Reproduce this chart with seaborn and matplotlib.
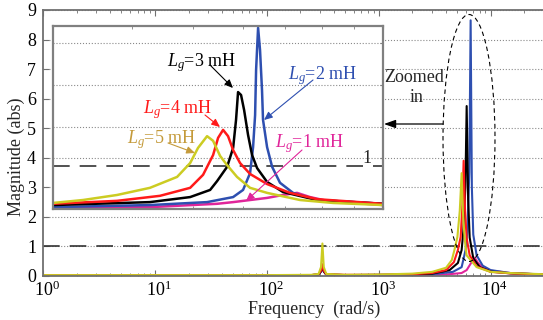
import numpy as np
import pandas as pd
import matplotlib
matplotlib.use('Agg')
import matplotlib.pyplot as plt
import matplotlib.transforms as mtrans
import seaborn as sns
from matplotlib.patches import Ellipse
from matplotlib.ticker import NullFormatter, LogLocator

sns.set_style('white')
plt.rcParams['font.family'] = ['Liberation Serif', 'DejaVu Serif']
plt.rcParams['mathtext.fontset'] = 'custom'
plt.rcParams['mathtext.rm'] = 'Liberation Serif'
plt.rcParams['mathtext.it'] = 'Liberation Serif:italic'
plt.rcParams['mathtext.bf'] = 'Liberation Serif:bold'

# ---------------- data ----------------
lg_labels = ['1 mH', '2 mH', '3 mH', '4 mH', '5 mH']
line_colors = ['#e0259a', '#2e4fb0', '#000000', '#ff1a1a', '#cccc22']
text_colors = ['#e0259a', '#2e4fb0', '#000000', '#ff1a1a', '#c49a3a']

# main plot (frequency in rad/s, magnitude in abs)
main_freq_1 = [1, 100, 250, 290, 305, 314, 323, 340, 500, 1000, 2000, 4000, 5500, 6110, 6690, 7200, 7700, 8500, 10000, 15000, 30000]
main_mag_1 = [0.03, 0.03, 0.03, 0.05, 0.15, 0.30, 0.15, 0.05, 0.03, 0.03, 0.03, 0.05, 0.10, 0.20, 0.44, 0.62, 0.45, 0.28, 0.18, 0.10, 0.05]

main_freq_2 = [1, 100, 250, 290, 305, 314, 323, 340, 500, 1000, 2000, 3000, 4600, 5510, 5970, 6200, 6450, 6630, 6800, 7000, 7500, 8500, 10000, 15000, 30000]
main_mag_2 = [0.03, 0.03, 0.03, 0.05, 0.15, 0.30, 0.15, 0.05, 0.03, 0.03, 0.04, 0.06, 0.14, 0.30, 0.88, 1.50, 3.50, 8.65, 3.00, 1.40, 0.70, 0.35, 0.20, 0.10, 0.05]

main_freq_3 = [1, 100, 250, 290, 305, 314, 323, 340, 500, 1000, 2000, 3000, 4300, 5100, 5510, 5700, 5950, 6110, 6300, 6500, 7000, 8000, 10000, 15000, 30000]
main_mag_3 = [0.03, 0.03, 0.03, 0.05, 0.16, 0.35, 0.16, 0.05, 0.03, 0.04, 0.05, 0.08, 0.20, 0.44, 0.88, 1.50, 3.00, 5.75, 2.60, 1.30, 0.60, 0.30, 0.15, 0.09, 0.05]

main_freq_4 = [1, 100, 250, 290, 305, 314, 323, 340, 500, 1000, 2000, 3000, 4000, 4700, 5100, 5400, 5600, 5740, 5900, 6100, 6500, 7500, 10000, 15000, 30000]
main_mag_4 = [0.03, 0.03, 0.03, 0.06, 0.18, 0.40, 0.18, 0.06, 0.04, 0.04, 0.06, 0.10, 0.20, 0.47, 0.88, 1.32, 2.40, 3.90, 2.30, 1.30, 0.70, 0.32, 0.14, 0.09, 0.05]

main_freq_5 = [1, 100, 250, 290, 305, 314, 323, 340, 500, 1000, 2000, 3000, 4000, 4500, 4750, 5050, 5300, 5510, 5650, 5850, 6100, 7500, 10000, 15000, 30000]
main_mag_5 = [0.03, 0.03, 0.04, 0.07, 0.30, 1.10, 0.30, 0.07, 0.04, 0.05, 0.08, 0.14, 0.28, 0.54, 0.88, 1.32, 2.20, 3.48, 2.20, 1.30, 0.70, 0.30, 0.14, 0.10, 0.06]

# zoomed-in view (inset)
zoom_freq_1 = [3000, 4273, 5459, 5788, 6551, 6943, 7309, 7662, 8155, 10000]
zoom_mag_1 = [0.01, 0.02, 0.10, 0.14, 0.24, 0.31, 0.36, 0.26, 0.17, 0.07]

zoom_freq_2 = [3000, 4273, 5263, 5788, 6002, 6157, 6225, 6271, 6294, 6340, 6385, 6431, 6455, 6551, 6673, 6868, 7202, 7860, 10000]
zoom_mag_2 = [0.02, 0.07, 0.14, 0.26, 0.43, 0.83, 1.45, 2.21, 3.29, 4.29, 3.76, 2.81, 2.10, 1.45, 0.98, 0.60, 0.36, 0.19, 0.10]

zoom_freq_3 = [3000, 4273, 4948, 5322, 5459, 5662, 5788, 5850, 5893, 5958, 6025, 6112, 6202, 6317, 6551, 6943, 7860, 10000]
zoom_mag_3 = [0.07, 0.14, 0.26, 0.43, 0.64, 0.98, 1.43, 2.10, 2.76, 2.69, 2.33, 1.74, 1.26, 0.95, 0.62, 0.38, 0.19, 0.10]

zoom_freq_4 = [3000, 3790, 4433, 4948, 5187, 5380, 5479, 5580, 5682, 5788, 5936, 6157, 6551, 7122, 7860, 10000]
zoom_mag_4 = [0.10, 0.17, 0.29, 0.48, 0.79, 1.26, 1.67, 1.86, 1.71, 1.38, 1.07, 0.81, 0.57, 0.36, 0.21, 0.10]

zoom_freq_5 = [3000, 3347, 3790, 4273, 4718, 4948, 5092, 5263, 5380, 5519, 5662, 5871, 6157, 6551, 7388, 8335, 10000]
zoom_mag_5 = [0.12, 0.19, 0.31, 0.48, 0.74, 1.07, 1.43, 1.71, 1.60, 1.24, 1.02, 0.74, 0.48, 0.36, 0.19, 0.12, 0.07]

main_freqs = [main_freq_1, main_freq_2, main_freq_3, main_freq_4, main_freq_5]
main_mags = [main_mag_1, main_mag_2, main_mag_3, main_mag_4, main_mag_5]
zoom_freqs = [zoom_freq_1, zoom_freq_2, zoom_freq_3, zoom_freq_4, zoom_freq_5]
zoom_mags = [zoom_mag_1, zoom_mag_2, zoom_mag_3, zoom_mag_4, zoom_mag_5]


def long_df(freqs, mags):
    rows = []
    for lab, f, m in zip(lg_labels, freqs, mags):
        for fi, mi in zip(f, m):
            rows.append((lab, fi, mi))
    return pd.DataFrame(rows, columns=['Lg', 'freq', 'mag'])


df_main = long_df(main_freqs, main_mags)
df_zoom = long_df(zoom_freqs, zoom_mags)
palette = dict(zip(lg_labels, line_colors))

W, H = 543, 320
fig = plt.figure(figsize=(W / 100, H / 100), dpi=100)


def fx(x):
    return x / W


def fy(y):
    return 1 - y / H


# ---------------- main axes ----------------
ax = fig.add_axes([fx(43), fy(276), 501 / W, 266 / H])
ax.set_xscale('log')
sns.lineplot(data=df_main, x='freq', y='mag', hue='Lg', palette=palette,
             estimator=None, legend=False, ax=ax, linewidth=1.5)
ax.set_xlim(1, 3e4)
ax.set_ylim(0, 9)
ax.set_yticks(range(10))
ax.set_xticks([1, 10, 100, 1000, 10000])
ax.xaxis.set_minor_locator(LogLocator(base=10, subs=np.arange(2, 10), numticks=20))
ax.yaxis.grid(True, linestyle=':', color='#8a8a8a', linewidth=0.8)
ax.xaxis.grid(False)
ax.axhline(1, color='#333333', linestyle=(0, (10, 6)), linewidth=1.2, zorder=1)
for s in ['left', 'top', 'bottom']:
    ax.spines[s].set_color('#707070')
    ax.spines[s].set_linewidth(1.3)
ax.spines['right'].set_visible(False)
ax.tick_params(which='both', direction='in', top=True, bottom=True, left=True, right=False,
               color='#707070', labelcolor='black', labelsize=13)
ax.tick_params(which='major', length=4)
ax.tick_params(which='minor', length=2.5)
ax.tick_params(axis='x', pad=3)
ax.tick_params(axis='y', pad=5)
ax.set_xlabel('')
ax.set_ylabel('')
# the "10" of each power label sits on its tick, superscript hanging to the right
shift = mtrans.ScaledTranslation(4 / 100, 0, fig.dpi_scale_trans)
for lab in ax.get_xticklabels():
    lab.set_transform(lab.get_transform() + shift)
fig.text(fx(314), fy(309), 'Frequency  (rad/s)', ha='center', va='center', fontsize=13)
fig.text(fx(16), fy(157), 'Magnitude (abs)', ha='center', va='center', rotation=90, fontsize=13)

# ---------------- inset ----------------
axi = fig.add_axes([fx(53), fy(209), 330 / W, 183 / H])
axi.set_xscale('log')
sns.lineplot(data=df_zoom, x='freq', y='mag', hue='Lg', palette=palette,
             estimator=None, legend=False, ax=axi, linewidth=1.8)
axi.set_xlim(3000, 10000)
axi.set_ylim(-0.024, 4.333)
axi.set_yticks([1.19, 1.93, 2.93, 3.93])
axi.yaxis.grid(True, linestyle=':', color='#8a8a8a', linewidth=0.8)
axi.xaxis.grid(False)
axi.xaxis.set_major_formatter(NullFormatter())
axi.xaxis.set_minor_formatter(NullFormatter())
axi.yaxis.set_major_formatter(NullFormatter())
axi.tick_params(which='both', direction='in', top=True, bottom=True, left=False, right=True,
                color='#808080', length=2.5)
axi.set_xlabel('')
axi.set_ylabel('')
for s in axi.spines.values():
    s.set_color('#808080')
    s.set_linewidth(1.6)
axi.axhline(1, color='#333333', linestyle=(0, (10, 6)), linewidth=1.2, zorder=1)
fig.text(fx(367), fy(163), '1', ha='center', va='baseline', fontsize=13)

# annotations
ann = [
    # (label idx, text left x, baseline y, arrow from, arrow to)
    (2, 167, 66, (210, 65), (233, 88)),
    (3, 143, 113, (205, 115), (220, 127)),
    (4, 127, 143, (168, 143), (195, 153)),
    (1, 288, 79, (313, 80), (264, 120)),
    (0, 275, 147, (302, 150), (246, 201)),
]
for idx, tx, ty, a0, a1 in ann:
    fig.text(fx(tx), fy(ty), r'$L_g$=' + lg_labels[idx], color=text_colors[idx],
             ha='left', va='baseline', fontsize=13)
    fig.add_artist(matplotlib.patches.FancyArrowPatch(
        (fx(a0[0]), fy(a0[1])), (fx(a1[0]), fy(a1[1])), transform=fig.transFigure,
        arrowstyle='-|>,head_length=5,head_width=2.2', color=text_colors[idx], lw=0.8,
        shrinkA=0, shrinkB=0))

# zoom marker
fig.add_artist(Ellipse((fx(469), fy(138)), 52 / W, 247 / H, transform=fig.transFigure,
                       fill=False, linestyle=(0, (4, 3)), linewidth=0.8, edgecolor='black'))
fig.add_artist(matplotlib.patches.FancyArrowPatch(
    (fx(443), fy(124)), (fx(384), fy(124)), transform=fig.transFigure,
    arrowstyle='-|>,head_length=7,head_width=2.5', color='black', lw=0.9,
    shrinkA=0, shrinkB=0))
fig.text(fx(414), fy(82), 'Zoomed', ha='center', va='baseline', fontsize=13)
fig.text(fx(417), fy(102), 'in', ha='center', va='baseline', fontsize=13)

fig.savefig('out.png', dpi=100)
